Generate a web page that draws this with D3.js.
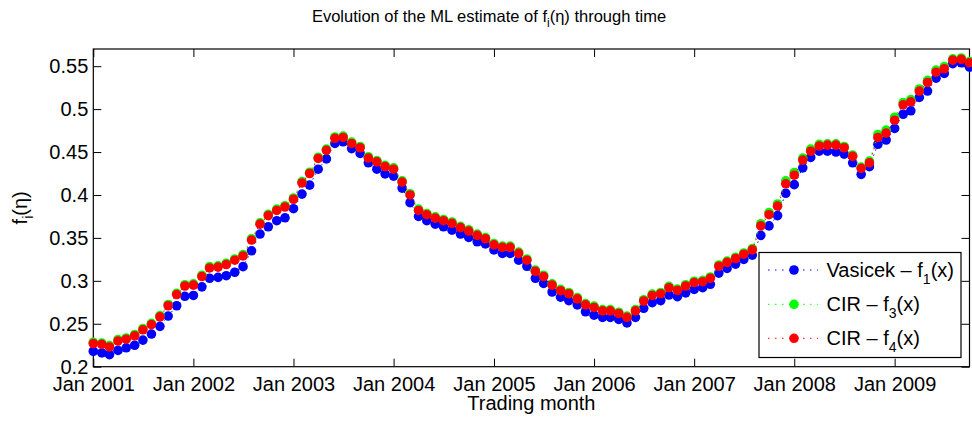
<!DOCTYPE html>
<html>
<head>
<meta charset="utf-8">
<script src="https://cdn.jsdelivr.net/npm/d3@7"></script>
<style>
  html, body { margin: 0; padding: 0; background: #fff; }
  svg { display: block; font-family: "Liberation Sans", Arial, Helvetica, sans-serif; }
</style>
</head>
<body>
<svg id="chart" width="972" height="424"></svg>
<script>
// ---- data ----
const startMonth = new Date(2001, 0, 1);
const endMonth = new Date(2009, 9, 1);
const months = d3.timeMonth.range(startMonth, d3.timeMonth.offset(endMonth, 1));

const vasicekF1 = [
  0.218, 0.216, 0.214, 0.219, 0.222, 0.225, 0.231, 0.238, 0.247, 0.259, 0.271, 0.282,
  0.283, 0.293, 0.303, 0.304, 0.306, 0.310, 0.3165, 0.335, 0.3545, 0.363, 0.370, 0.3734,
  0.384, 0.401, 0.4115, 0.430, 0.442, 0.460, 0.462, 0.454, 0.4484, 0.4375, 0.430, 0.4245,
  0.422, 0.408, 0.391, 0.375, 0.370, 0.366, 0.363, 0.359, 0.3545, 0.3506, 0.3455, 0.343,
  0.336, 0.332, 0.332, 0.324, 0.317, 0.303, 0.297, 0.287, 0.281, 0.277, 0.272, 0.264,
  0.260, 0.2575, 0.2575, 0.255, 0.251, 0.2575, 0.268, 0.2745, 0.277, 0.2835, 0.2815, 0.286,
  0.290, 0.292, 0.296, 0.309, 0.3145, 0.3195, 0.325, 0.330, 0.353, 0.364, 0.376, 0.402,
  0.412, 0.4316, 0.4437, 0.451, 0.451, 0.450, 0.4476, 0.4375, 0.424, 0.433, 0.459, 0.464,
  0.4775, 0.494, 0.498, 0.5136, 0.521, 0.536, 0.5415, 0.553, 0.554, 0.549
];
const cirF3 = [
  0.2285, 0.2275, 0.2245, 0.2315, 0.2335, 0.2375, 0.2445, 0.2505, 0.2595, 0.2725, 0.2855, 0.2955,
  0.2965, 0.3065, 0.3165, 0.3175, 0.3205, 0.3255, 0.3305, 0.349, 0.3675, 0.3775, 0.3835, 0.3875,
  0.3965, 0.4155, 0.4265, 0.444, 0.4535, 0.4675, 0.4685, 0.4615, 0.4565, 0.4445, 0.44, 0.4345,
  0.4315, 0.4165, 0.4015, 0.3835, 0.3785, 0.3745, 0.3715, 0.3685, 0.3635, 0.3595, 0.3545, 0.3505,
  0.3435, 0.3405, 0.3405, 0.3335, 0.3255, 0.3125, 0.3065, 0.2965, 0.29, 0.2865, 0.2805, 0.2735,
  0.2705, 0.2665, 0.2665, 0.2635, 0.259, 0.2665, 0.278, 0.2845, 0.2865, 0.2935, 0.2905, 0.2955,
  0.2995, 0.3005, 0.3045, 0.3185, 0.323, 0.3275, 0.3325, 0.3375, 0.3665, 0.3795, 0.3895, 0.4165,
  0.426, 0.443, 0.4535, 0.459, 0.4595, 0.4595, 0.4565, 0.4465, 0.4325, 0.4395, 0.4705, 0.4755,
  0.4905, 0.5075, 0.511, 0.5235, 0.5335, 0.5455, 0.5495, 0.5585, 0.5595, 0.5555
];
const cirF4 = [
  0.227, 0.226, 0.223, 0.230, 0.232, 0.236, 0.243, 0.249, 0.258, 0.271, 0.284, 0.294,
  0.295, 0.305, 0.315, 0.316, 0.319, 0.324, 0.329, 0.3475, 0.366, 0.376, 0.382, 0.386,
  0.395, 0.414, 0.425, 0.4425, 0.452, 0.466, 0.467, 0.460, 0.455, 0.443, 0.4386, 0.433,
  0.430, 0.415, 0.400, 0.382, 0.377, 0.373, 0.370, 0.367, 0.362, 0.358, 0.353, 0.349,
  0.342, 0.339, 0.339, 0.332, 0.324, 0.311, 0.305, 0.295, 0.2885, 0.285, 0.279, 0.272,
  0.269, 0.265, 0.265, 0.262, 0.2575, 0.265, 0.2765, 0.283, 0.285, 0.292, 0.289, 0.294,
  0.298, 0.299, 0.303, 0.317, 0.3215, 0.326, 0.331, 0.336, 0.364, 0.377, 0.387, 0.413,
  0.423, 0.4406, 0.451, 0.457, 0.458, 0.458, 0.455, 0.445, 0.431, 0.4375, 0.467, 0.472,
  0.487, 0.505, 0.5085, 0.521, 0.531, 0.543, 0.547, 0.557, 0.558, 0.554
];

const seriesNames = ["Vasicek \u2013 f", "CIR \u2013 f", "CIR \u2013 f"];
const seriesSubs = ["1", "3", "4"];
const seriesColors = ["#0000ff", "#00ff00", "#ff0000"];
const xTickDates = [2001, 2002, 2003, 2004, 2005, 2006, 2007, 2008, 2009].map(yr => new Date(yr, 0, 1));
const xTickLabels = ["Jan 2001", "Jan 2002", "Jan 2003", "Jan 2004", "Jan 2005", "Jan 2006", "Jan 2007", "Jan 2008", "Jan 2009"];
const yTicks = [0.2, 0.25, 0.3, 0.35, 0.4, 0.45, 0.5, 0.55];
const yTickLabels = ["0.2", "0.25", "0.3", "0.35", "0.4", "0.45", "0.5", "0.55"];

// ---- layout ----
const padL = 93.3, padR = 969.5, padT = 49, padB = 366.7;
const svg = d3.select("#chart");

const xScale = d3.scaleTime().domain([startMonth, endMonth]).range([padL, padR]);
const yScale = d3.scaleLinear().domain([0.2, 0.57]).range([padB, padT]);

// axes
const fs = 20;
const axL = d3.axisLeft(yScale).tickValues(yTicks).tickFormat((d, i) => yTickLabels[i])
  .tickSizeInner(-8).tickSizeOuter(0).tickPadding(5);
const axR = d3.axisRight(yScale).tickValues(yTicks).tickFormat("")
  .tickSizeInner(-8).tickSizeOuter(0);
const axB = d3.axisBottom(xScale).tickValues(xTickDates).tickFormat((d, i) => xTickLabels[i])
  .tickSizeInner(-8).tickSizeOuter(0).tickPadding(10);
const axT = d3.axisTop(xScale).tickValues(xTickDates).tickFormat("")
  .tickSizeInner(-8).tickSizeOuter(0);

function styleAxis(g) {
  g.select(".domain").remove();
  g.selectAll(".tick line").attr("stroke", "#000").attr("stroke-width", 1);
  g.selectAll(".tick text").attr("fill", "#000").style("font-size", fs + "px")
    .style("font-family", '"Liberation Sans", Arial, sans-serif');
}
svg.append("g").attr("transform", `translate(${padL},0)`).call(axL).call(styleAxis);
svg.append("g").attr("transform", `translate(${padR},0)`).call(axR).call(styleAxis);
svg.append("g").attr("transform", `translate(0,${padB})`).call(axB).call(styleAxis);
svg.append("g").attr("transform", `translate(0,${padT})`).call(axT).call(styleAxis);

// box
svg.append("rect").attr("x", padL).attr("y", padT).attr("width", padR - padL).attr("height", padB - padT)
  .attr("fill", "none").attr("stroke", "#000").attr("stroke-width", 1.2);

// series
const allSeries = [vasicekF1, cirF3, cirF4];
const lineGen = d3.line().x((d, i) => xScale(months[i])).y(d => yScale(d));
allSeries.forEach((vals, si) => {
  const g = svg.append("g");
  g.append("path").datum(vals).attr("d", lineGen).attr("fill", "none")
    .attr("stroke", seriesColors[si]).attr("stroke-width", 1).attr("stroke-dasharray", "1.5,4");
  g.selectAll("circle").data(vals).join("circle")
    .attr("cx", (d, i) => xScale(months[i])).attr("cy", d => yScale(d)).attr("r", 4.8)
    .attr("fill", seriesColors[si]);
});

// title
const title = svg.append("text").attr("x", 489).attr("y", 22).attr("text-anchor", "middle")
  .style("font-size", "16.5px").attr("fill", "#000");
title.append("tspan").text("Evolution of the ML estimate of f");
title.append("tspan").attr("dy", 5).style("font-size", "12px").text("i");
title.append("tspan").attr("dy", -5).text("(\u03b7) through time");

// x label
svg.append("text").attr("x", (padL + padR) / 2).attr("y", 410).attr("text-anchor", "middle")
  .style("font-size", fs + "px").attr("fill", "#000").text("Trading month");

// y label
const yl = svg.append("text").attr("transform", `translate(27,${(padT + padB) / 2}) rotate(-90)`)
  .attr("text-anchor", "middle").style("font-size", fs + "px").attr("fill", "#000");
yl.append("tspan").text("f");
yl.append("tspan").attr("dy", 6).style("font-size", "14px").text("i");
yl.append("tspan").attr("dy", -6).text("(\u03b7)");

// legend
const lg = svg.append("g");
lg.append("rect").attr("x", 759).attr("y", 252.5).attr("width", 202).attr("height", 105)
  .attr("fill", "#fff").attr("stroke", "#000").attr("stroke-width", 1.2);
const rowY = [270, 304.3, 338.3];
allSeries.forEach((vals, si) => {
  const cy = rowY[si];
  lg.append("line").attr("x1", 768).attr("x2", 818).attr("y1", cy).attr("y2", cy)
    .attr("stroke", seriesColors[si]).attr("stroke-width", 1).attr("stroke-dasharray", "1.5,5.5");
  lg.append("circle").attr("cx", 794).attr("cy", cy).attr("r", 4.8).attr("fill", seriesColors[si]);
  const t = lg.append("text").attr("x", 826.5).attr("y", cy + 7).style("font-size", fs + "px").attr("fill", "#000");
  t.append("tspan").text(seriesNames[si]);
  t.append("tspan").attr("dy", 7).style("font-size", "14px").text(seriesSubs[si]);
  t.append("tspan").attr("dy", -7).text("(x)");
});
</script>
</body>
</html>
